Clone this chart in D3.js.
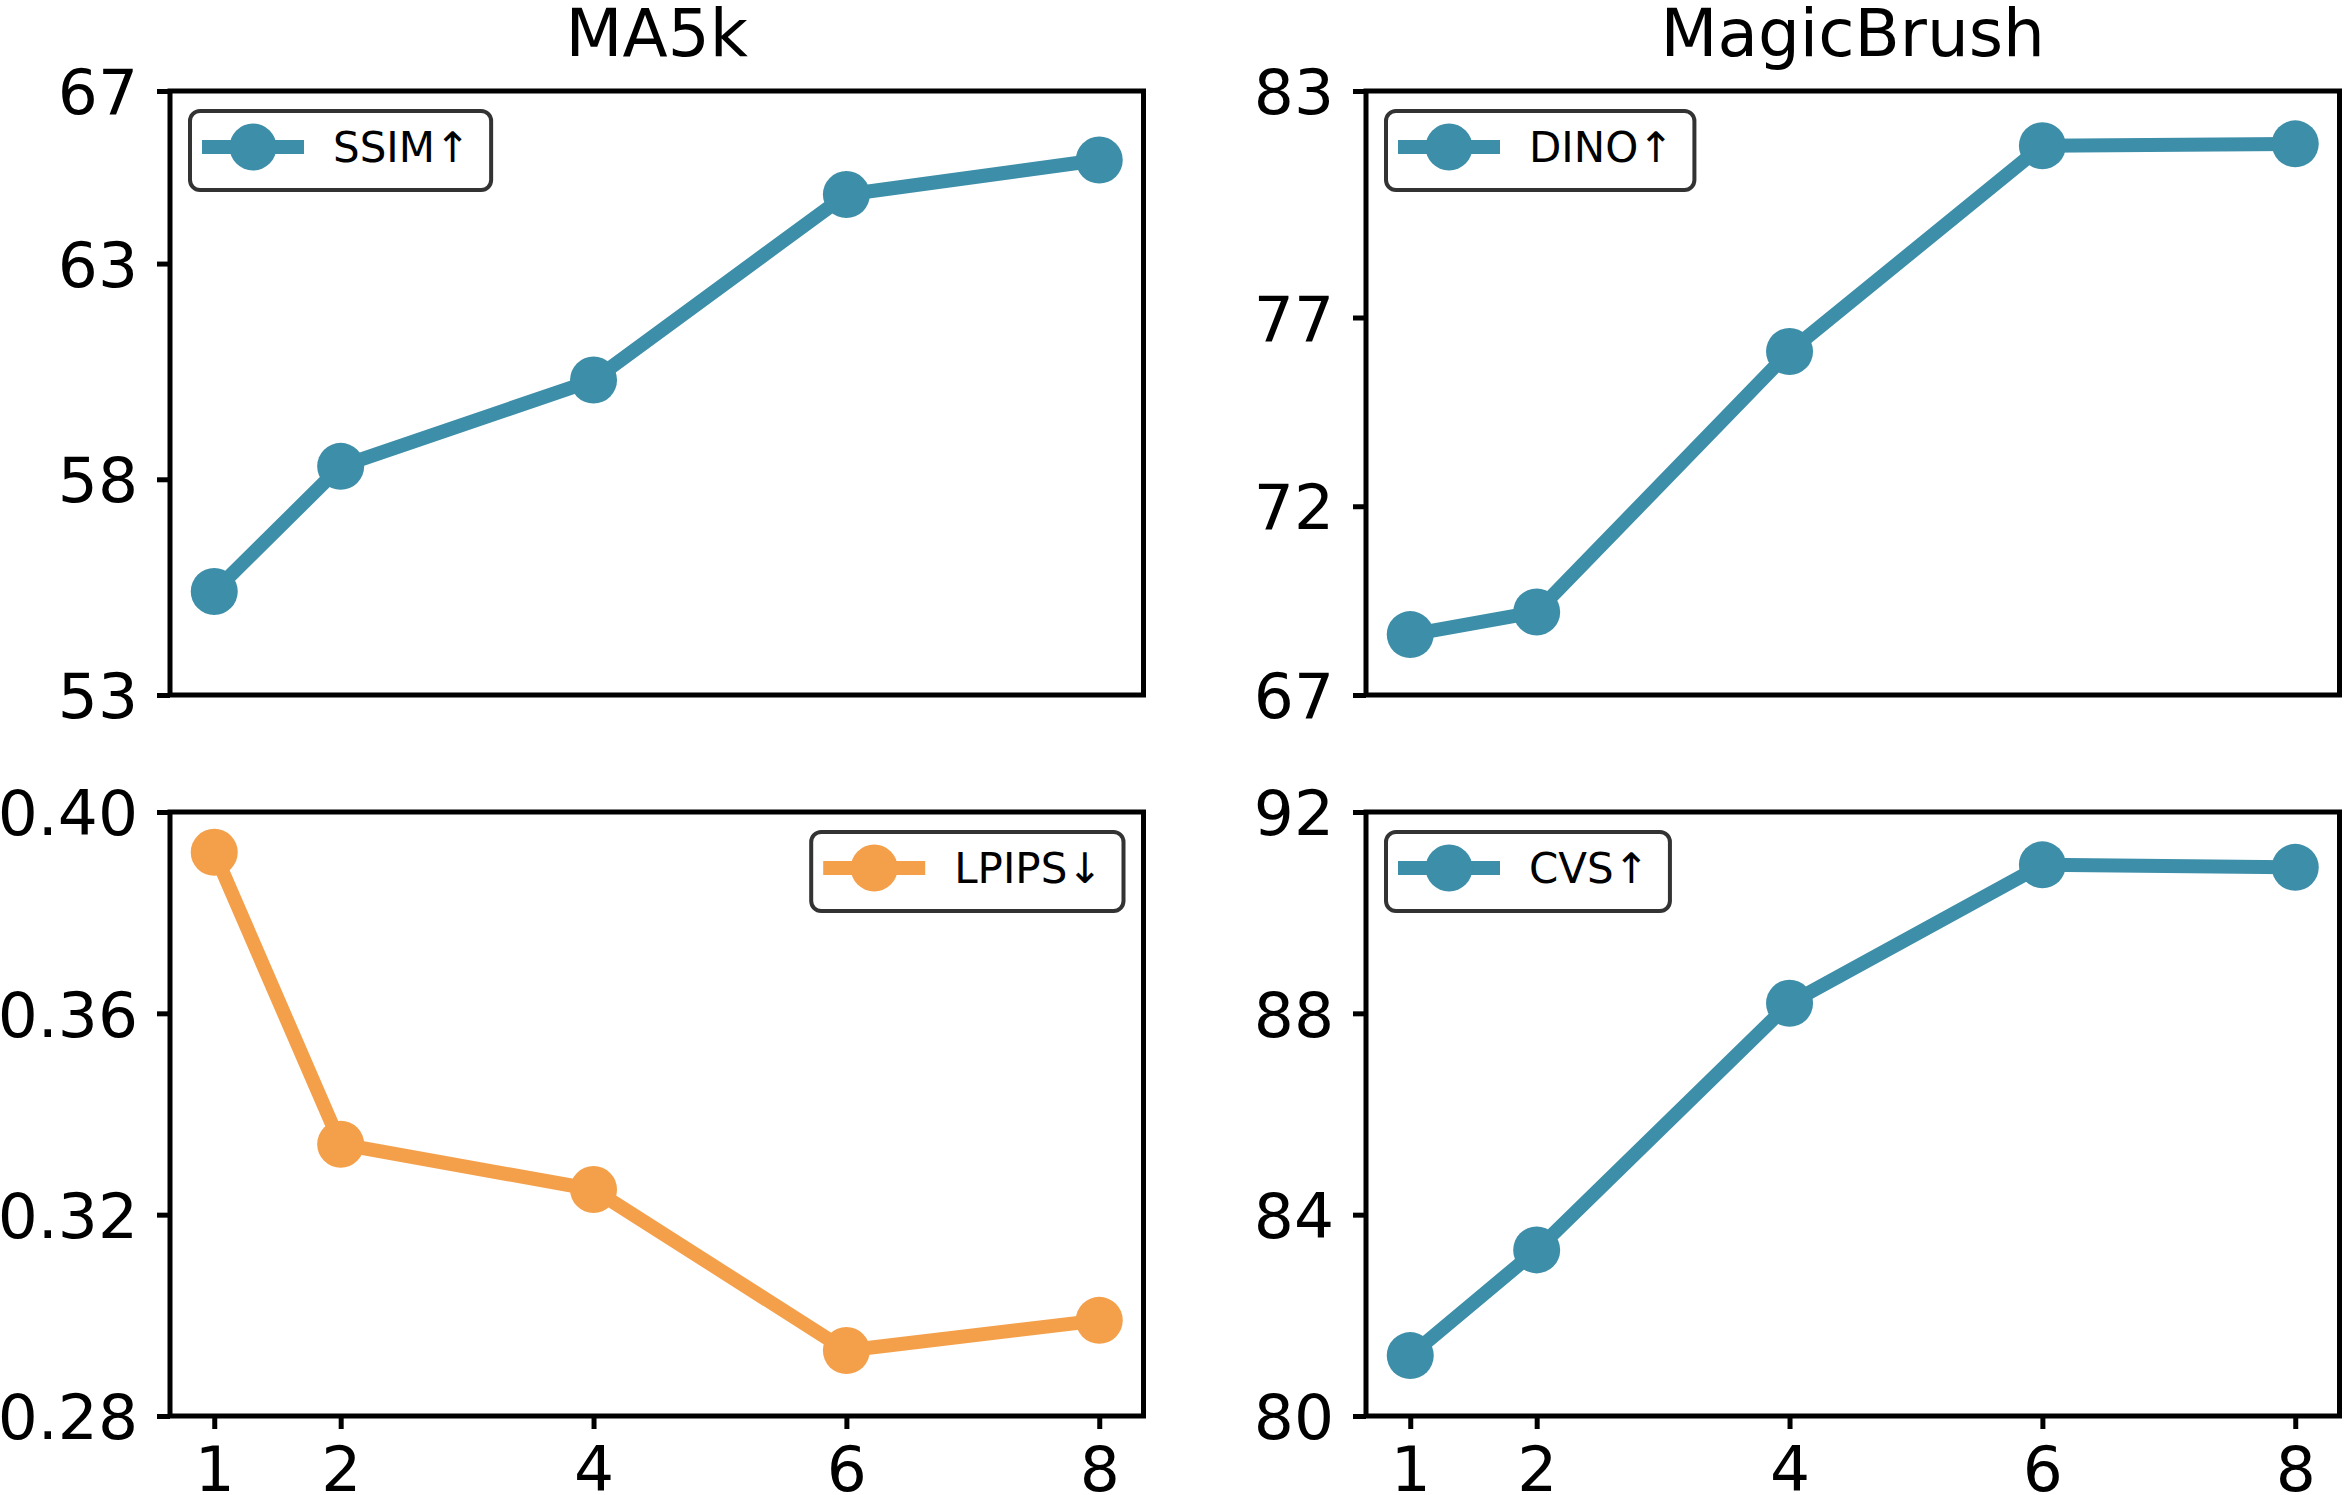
<!DOCTYPE html>
<html>
<head>
<meta charset="utf-8">
<script src="https://cdn.jsdelivr.net/npm/d3@7"></script>
<style>
  body { margin: 0; background: #fff; }
  svg { display: block; }
  text { font-family: "DejaVu Sans", sans-serif; fill: #000; }
</style>
</head>
<body>
<svg id="chart" width="2345" height="1495"></svg>
<script>
// values
const steps = [1, 2, 4, 6, 8];
const ssim = [55.4, 58.3, 60.3, 64.6, 65.4];
const dino = [68.6, 69.2, 76.1, 81.55, 81.6];
const lpips = [0.392, 0.334, 0.325, 0.293, 0.299];
const cvs = [81.2, 83.3, 88.2, 90.95, 90.9];

const ssimTicks = [53, 58, 63, 67];
const dinoTicks = [67, 72, 77, 83];
const lpipsTicks = [0.28, 0.32, 0.36, 0.40];
const cvsTicks = [80, 84, 88, 92];

const titles = ["MA5k", "MagicBrush"];

const teal = "#3d8ea8", orange = "#f4a04b";

const svg = d3.select("#chart");
const W = 973.5, H = 604;
const colX = [170, 1366], rowY = [91, 812];

const panels = [
  { col: 0, row: 0, vals: ssim, ticks: ssimTicks, dom: [53, 67], fmt: d3.format("d"), name: "SSIM\u2191", color: teal, loc: "left" },
  { col: 1, row: 0, vals: dino, ticks: dinoTicks, dom: [67, 83], fmt: d3.format("d"), name: "DINO\u2191", color: teal, loc: "left" },
  { col: 0, row: 1, vals: lpips, ticks: lpipsTicks, dom: [0.28, 0.40], fmt: d3.format(".2f"), name: "LPIPS\u2193", color: orange, loc: "right" },
  { col: 1, row: 1, vals: cvs, ticks: cvsTicks, dom: [80, 92], fmt: d3.format("d"), name: "CVS\u2191", color: teal, loc: "left" }
];

const x = d3.scaleLinear().domain([0.65, 8.35]).range([0, W]);

panels.forEach(p => {
  const g = svg.append("g").attr("transform", `translate(${colX[p.col]},${rowY[p.row]})`);
  const y = d3.scaleLinear().domain(p.dom).range([H, 0]);

  // y axis
  const ya = g.append("g").call(d3.axisLeft(y).tickValues(p.ticks).tickFormat(p.fmt).tickSize(13).tickSizeOuter(0).tickPadding(19));
  ya.select(".domain").remove();
  ya.selectAll("line").attr("stroke", "#000").attr("stroke-width", 5);
  ya.selectAll("text").attr("font-size", 63).attr("dy", "0.36em").style("font-family", "DejaVu Sans");

  // x axis only on bottom row
  if (p.row === 1) {
    const xa = g.append("g").attr("transform", `translate(0,${H})`)
      .call(d3.axisBottom(x).tickValues(steps).tickFormat(d3.format("d")).tickSize(13).tickSizeOuter(0).tickPadding(17));
    xa.select(".domain").remove();
    xa.selectAll("line").attr("stroke", "#000").attr("stroke-width", 5);
    xa.selectAll("text").attr("font-size", 63).style("font-family", "DejaVu Sans");
  }

  // data line + markers
  const line = d3.line().x((d, i) => x(steps[i])).y(d => y(d));
  g.append("path").datum(p.vals).attr("d", line)
    .attr("fill", "none").attr("stroke", p.color).attr("stroke-width", 14).attr("stroke-linejoin", "round");
  g.selectAll(".dot").data(p.vals).enter().append("circle")
    .attr("cx", (d, i) => x(steps[i])).attr("cy", d => y(d)).attr("r", 23.5).attr("fill", p.color);

  // frame
  g.append("rect").attr("width", W).attr("height", H)
    .attr("fill", "none").attr("stroke", "#000").attr("stroke-width", 5);

  // legend
  const lg = g.append("g");
  const txt = lg.append("text").attr("font-size", 42).text(p.name);
  const tw = txt.node().getComputedTextLength();
  const bw = 12 + 102 + 29 + tw + 21, bh = 79;
  const bx = p.loc === "left" ? 20 : W - 20 - bw, by = 20;
  lg.insert("rect", "text").attr("x", bx).attr("y", by).attr("width", bw).attr("height", bh)
    .attr("rx", 10).attr("fill", "#fff").attr("stroke", "#333").attr("stroke-width", 4);
  lg.append("line").attr("x1", bx + 12).attr("x2", bx + 114).attr("y1", by + 36).attr("y2", by + 36)
    .attr("stroke", p.color).attr("stroke-width", 14);
  lg.append("circle").attr("cx", bx + 63).attr("cy", by + 36).attr("r", 23.5).attr("fill", p.color);
  txt.attr("x", bx + 143).attr("y", by + 51);

  if (p.row === 0) {
    g.append("text").attr("x", W / 2).attr("y", 56 - rowY[0]).attr("text-anchor", "middle")
      .attr("font-size", 66).text(titles[p.col]);
  }
});
</script>
</body>
</html>
